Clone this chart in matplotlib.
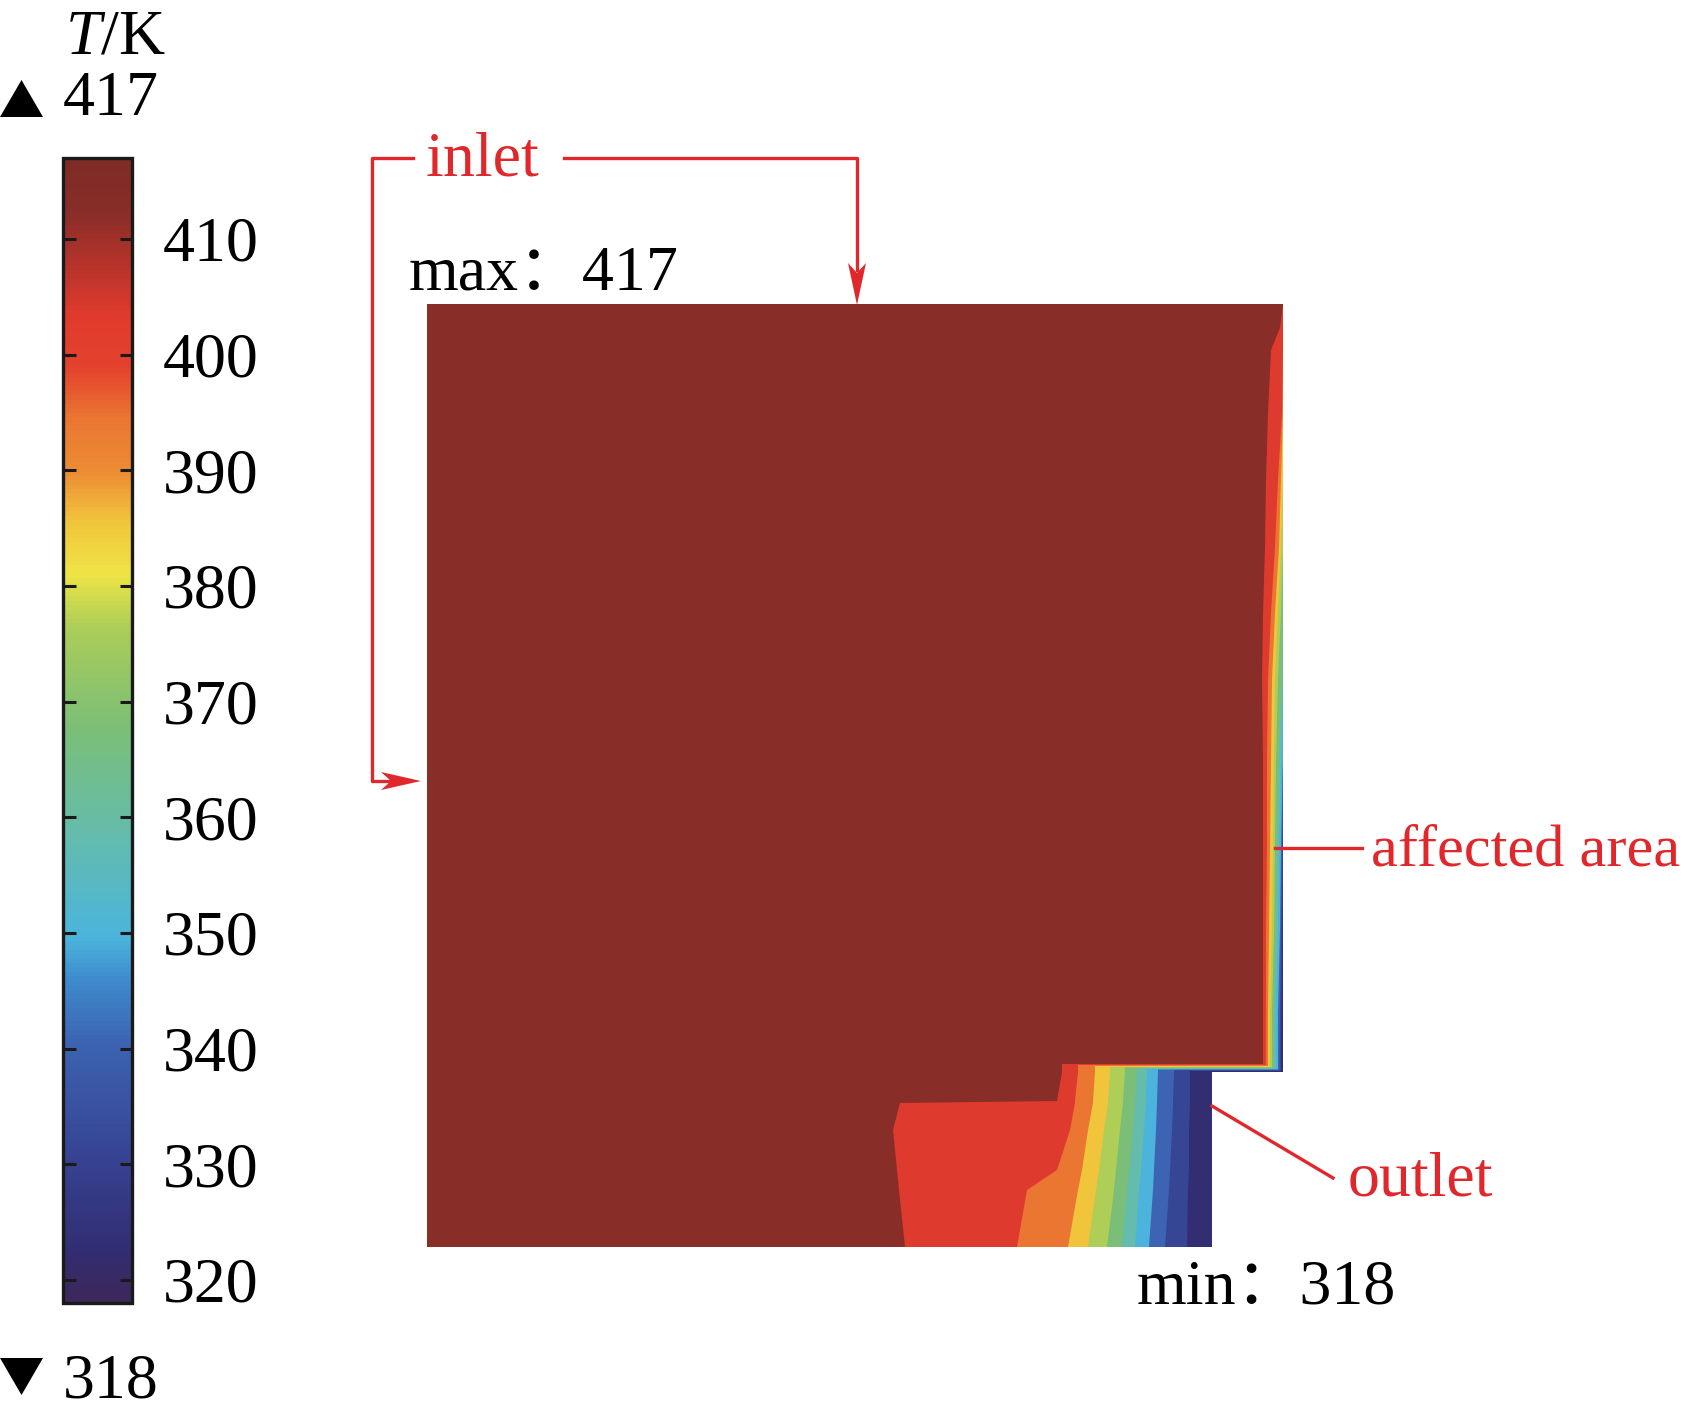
import numpy as np
import matplotlib
matplotlib.use("Agg")
import matplotlib.pyplot as plt
import matplotlib.cm as cm
from matplotlib.colors import LinearSegmentedColormap, Normalize
from matplotlib.patches import Polygon

# temperature range and contour levels (K)
t_min, t_max = 318, 417
cbar_ticks = [320, 330, 340, 350, 360, 370, 380, 390, 400, 410]
iso_levels = [408, 399, 390, 381, 372, 363, 354, 345, 336, 327]
band_step = 9

# geometry (mm)
width_top = 85.6
width_outlet = 78.5
height = 94.3
step_y = 17.5

# isotherms along the cooled side wall: depth from the wall (mm) at each height
strip_y = [94.3, 91.9, 89.7, 83.4, 76.7, 70.0, 63.4, 56.7, 48.7, 40.0, 31.7, 23.4, 18.5]
strip_depth = [
    [0, 0.3, 1.2, 1.5, 1.7, 1.8, 2.0, 2.1, 2.0, 2.0, 2.0, 2.0, 2.0],
    [0, 0, 0, 0.1, 0.5, 0.8, 1.2, 1.5, 1.6, 1.6, 1.7, 1.7, 1.7],
    [0, 0, 0, 0, 0.2, 0.4, 0.8, 1.1, 1.2, 1.3, 1.4, 1.5, 1.5],
    [0, 0, 0, 0, 0, 0.2, 0.5, 0.8, 0.9, 1.0, 1.1, 1.3, 1.3],
    [0, 0, 0, 0, 0, 0, 0.2, 0.5, 0.7, 0.8, 0.9, 1.1, 1.1],
    [0, 0, 0, 0, 0, 0, 0, 0.1, 0.4, 0.6, 0.7, 0.9, 0.9],
    [0, 0, 0, 0, 0, 0, 0, 0, 0.2, 0.4, 0.5, 0.7, 0.7],
    [0, 0, 0, 0, 0, 0, 0, 0, 0, 0.2, 0.3, 0.5, 0.5],
    [0, 0, 0, 0, 0, 0, 0, 0, 0, 0.1, 0.2, 0.3, 0.35],
    [0, 0, 0, 0, 0, 0, 0, 0, 0, 0, 0.05, 0.15, 0.2],
]
turn_y = [18.3, 18.2, 18.1, 18.0, 17.95, 17.9, 17.8, 17.75, 17.7, 17.6]

# isotherms in the outlet part: x (mm) at each height
outlet_y = [17.5, 14.6, 14.4, 11.7, 7.7, 5.7, 0.0]
outlet_x = [
    [63.5, 63.0, 47.3, 46.6, 47.0, 47.2, 47.8],
    [65.1, 64.8, 64.8, 64.3, 63.0, 60.0, 59.0],
    [66.8, 66.6, 66.6, 66.1, 65.5, 65.1, 64.1],
    [68.3, 68.1, 68.1, 67.7, 67.2, 66.9, 66.1],
    [69.8, 69.6, 69.6, 69.3, 68.9, 68.7, 68.0],
    [71.0, 70.8, 70.8, 70.6, 70.2, 70.0, 69.5],
    [72.0, 71.9, 71.9, 71.7, 71.4, 71.2, 70.8],
    [73.1, 73.0, 73.0, 72.9, 72.7, 72.6, 72.2],
    [74.7, 74.6, 74.6, 74.5, 74.3, 74.2, 73.8],
    [76.3, 76.3, 76.3, 76.2, 76.2, 76.1, 76.0],
]

# colour map (COMSOL-like rainbow)
anchors = [
    (318, (60, 40, 90)), (322.5, (50, 45, 115)), (331.5, (55, 70, 150)),
    (340.5, (60, 100, 178)), (346, (62, 140, 205)), (349.5, (75, 180, 220)),
    (358.5, (100, 188, 172)), (367.5, (122, 190, 120)), (376.5, (172, 205, 88)),
    (381, (238, 228, 70)), (385.5, (240, 198, 60)), (390, (236, 140, 52)),
    (394.5, (234, 118, 50)), (399, (228, 66, 45)), (403.5, (225, 58, 45)),
    (412.5, (137, 45, 40)), (417, (125, 43, 38)),
]
cmap = LinearSegmentedColormap.from_list(
    "rainbow_t",
    [((v - t_min) / (t_max - t_min), tuple(c / 255 for c in rgb)) for v, rgb in anchors])
norm = Normalize(t_min, t_max)

plt.rcParams['font.family'] = ['Liberation Serif', 'Noto Sans CJK SC']
plt.rcParams['mathtext.fontset'] = 'custom'
plt.rcParams['mathtext.rm'] = 'Liberation Serif'
plt.rcParams['mathtext.it'] = 'Liberation Serif:italic'

W, H = 1690, 1416
fig = plt.figure(figsize=(W / 100, H / 100), dpi=100)


def fig_box(x0, y0, x1, y1):
    return [x0 / W, 1 - y1 / H, (x1 - x0) / W, (y1 - y0) / H]


# temperature field
ax = fig.add_axes(fig_box(427, 304, 1283, 1247))
ax.set_xlim(0, width_top)
ax.set_ylim(0, height)
ax.axis('off')

domain = [(0, 0), (width_outlet, 0), (width_outlet, step_y), (width_top, step_y),
          (width_top, height), (0, height)]
ax.add_patch(Polygon(domain, closed=True, fc=cmap(norm(t_max - band_step / 2)), ec='none'))

for i, lev in enumerate(iso_levels):
    xs = [width_top - d for d in strip_depth[i]]
    pts = list(zip(xs, strip_y))
    pts.append((xs[-1], turn_y[i]))
    pts.append((outlet_x[i][0], turn_y[i]))
    pts += list(zip(outlet_x[i], outlet_y))
    pts += [(width_outlet, 0), (width_outlet, step_y), (width_top, step_y), (width_top, height)]
    ax.add_patch(Polygon(pts, closed=True, fc=cmap(norm(lev - band_step / 2)), ec='none', lw=0))

# colour bar
cax = fig.add_axes(fig_box(63, 158, 132, 1303))
cb = fig.colorbar(cm.ScalarMappable(norm=norm, cmap=cmap), cax=cax, ticks=cbar_ticks)
cb.outline.set_linewidth(2.4)
cb.outline.set_edgecolor('#1a1a1a')
cax.tick_params(direction='in', length=9, width=2.2, left=True, right=True,
                labelsize=46, pad=22, color='#1a1a1a')

# annotations in figure pixels
ov = fig.add_axes([0, 0, 1, 1])
ov.set_xlim(0, W)
ov.set_ylim(H, 0)
ov.axis('off')
ov.patch.set_alpha(0)

red = '#E0282C'
fs = 46
ov.text(65, 53, '$T$/K', fontsize=fs, va='baseline')
ov.text(63, 115, '417', fontsize=fs, va='baseline')
ov.text(63, 1397, '318', fontsize=fs, va='baseline')
ov.add_patch(Polygon([(0, 117), (43, 117), (21.5, 80)], fc='black', ec='none'))
ov.add_patch(Polygon([(0, 1358), (43, 1358), (21.5, 1395)], fc='black', ec='none'))

ov.text(409, 290, 'max：417', fontsize=fs, va='baseline')
ov.text(1137, 1304, 'min：318', fontsize=fs, va='baseline')

ov.text(426, 175, 'inlet', fontsize=fs, va='baseline', color=red)
ov.plot([413, 372, 372, 390], [158, 158, 781, 781], color=red, lw=2.4)
ov.plot([564, 857, 857], [158, 158, 270], color=red, lw=2.4)
ov.add_patch(Polygon([(848, 263), (857, 273), (866, 263), (857, 305)], fc=red, ec='none'))
ov.add_patch(Polygon([(381, 772), (391, 781), (381, 790), (421, 781)], fc=red, ec='none'))

ov.text(1371, 865, 'affected area', fontsize=43.5, va='baseline', color=red)
ov.plot([1275, 1362], [848, 848], color=red, lw=2.4)
ov.text(1348, 1195, 'outlet', fontsize=fs, va='baseline', color=red)
ov.plot([1212, 1333], [1106, 1178], color=red, lw=2.4)

fig.savefig('out.png', dpi=100)
